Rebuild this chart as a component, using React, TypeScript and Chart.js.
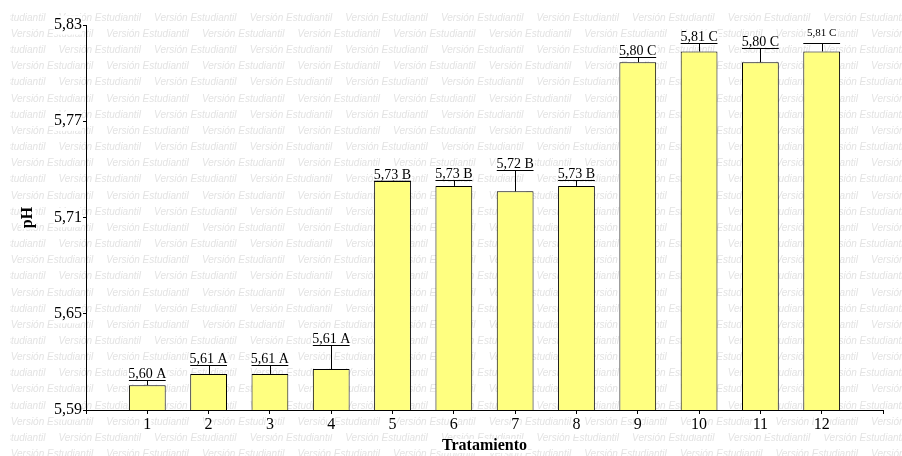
import React, { useEffect, useRef } from "react";
import { Chart, registerables } from "chart.js";

Chart.register(...registerables);

const categories = ["1", "2", "3", "4", "5", "6", "7", "8", "9", "10", "11", "12"];
const means = [5.6055, 5.6125, 5.6125, 5.6155, 5.733, 5.7297, 5.7263, 5.7297, 5.8068, 5.8135, 5.8068, 5.8135];
const errors = [0.0035, 0.0055, 0.0055, 0.015, 0, 0.0035, 0.0133, 0.0035, 0.0032, 0.0055, 0.0087, 0.0055];
const valueLabels = ["5,60 A", "5,61 A", "5,61 A", "5,61 A", "5,73 B", "5,73 B", "5,72 B", "5,73 B", "5,80 C", "5,81 C", "5,80 C", "5,81 C"];
const yTicks = [5.59, 5.65, 5.71, 5.77, 5.83];
const xTitle = "Tratamiento";
const yTitle = "pH";
const watermark = "Versión Estudiantil";

const SERIF = '"Liberation Serif", "Times New Roman", serif';
const SMALL_LABEL_INDEX = 11;

const watermarkPlugin = {
  id: "watermark",
  beforeDraw(chart: any) {
    const { ctx, width, height } = chart;
    ctx.save();
    ctx.fillStyle = "#ffffff";
    ctx.fillRect(0, 0, width, height);
    ctx.beginPath();
    ctx.rect(10, 0, width - 10, height);
    ctx.clip();
    ctx.font = 'italic 10px "Liberation Sans", Arial, sans-serif';
    ctx.fillStyle = "#e3e3e3";
    ctx.textBaseline = "middle";
    ctx.textAlign = "left";
    for (let i = 0; i < 40; i++) {
      const y = 18 + i * 16.16;
      if (y > height + 10) break;
      const start = i % 2 === 1 ? 10.7 : 10.7 - 47.8;
      for (let x = start; x < width; x += 95.6) {
        ctx.fillText(watermark, x, y);
      }
    }
    ctx.restore();
  },
};

const errorPlugin = {
  id: "errorbars",
  afterDatasetsDraw(chart: any) {
    const { ctx } = chart;
    const meta = chart.getDatasetMeta(0);
    const yScale = chart.scales.y;
    ctx.save();
    for (let i = 0; i < categories.length; i++) {
      const bar = meta.data[i + 1];
      if (!bar) continue;
      const x = bar.x;
      const top = bar.y;
      const w = bar.width;
      const yE = Math.round(yScale.getPixelForValue(means[i] + errors[i])) + 0.5;
      ctx.strokeStyle = "#000";
      ctx.lineWidth = 1;
      ctx.beginPath();
      const xc = Math.round(x) + 0.5;
      ctx.moveTo(xc, top);
      ctx.lineTo(xc, yE);
      ctx.moveTo(x - w / 2, yE);
      ctx.lineTo(x + w / 2, yE);
      ctx.stroke();

      const small = i === SMALL_LABEL_INDEX;
      const size = small ? 11 : 14;
      ctx.font = `${size}px ${SERIF}`;
      const text = valueLabels[i];
      const tw = ctx.measureText(text).width;
      const baseY = small ? yE - 7.5 : yE - 2.5;
      ctx.fillStyle = "#fff";
      ctx.fillRect(x - tw / 2 - 1, baseY - size * 0.72, tw + 2, size * 0.72 + 1);
      ctx.fillStyle = "#000";
      ctx.textAlign = "center";
      ctx.textBaseline = "alphabetic";
      ctx.fillText(text, x, baseY);
    }
    ctx.restore();
  },
  afterDraw(chart: any) {
    const { ctx, chartArea } = chart;
    ctx.save();
    ctx.font = `bold 16px ${SERIF}`;
    ctx.textAlign = "center";
    ctx.textBaseline = "middle";
    const cx = (chartArea.left + chartArea.right) / 2;
    const tw = ctx.measureText(xTitle).width;
    ctx.fillStyle = "#fff";
    ctx.fillRect(cx - tw / 2 - 1, 439, tw + 2, 14);
    ctx.fillStyle = "#000";
    ctx.fillText(xTitle, cx, 446);

    const cy = (chartArea.top + chartArea.bottom) / 2;
    ctx.translate(28, cy);
    ctx.rotate(-Math.PI / 2);
    const pw = ctx.measureText(yTitle).width;
    ctx.fillStyle = "#fff";
    ctx.fillRect(-pw / 2 - 1, -7, pw + 2, 14);
    ctx.fillStyle = "#000";
    ctx.fillText(yTitle, 0, 0);
    ctx.restore();
  },
};

export default function App() {
  const ref = useRef<HTMLCanvasElement>(null);
  useEffect(() => {
    if (!ref.current) return;
    const labels = ["", ...categories, ""];
    const data = [null, ...means, null];
    const chart = new Chart(ref.current, {
      type: "bar",
      data: {
        labels,
        datasets: [
          {
            data: data as any,
            backgroundColor: "#FFFF80",
            borderColor: "#000000",
            borderWidth: 1,
            borderSkipped: false,
            barPercentage: 0.6,
            categoryPercentage: 1,
          },
        ],
      },
      options: {
        animation: false,
        responsive: false,
        maintainAspectRatio: false,
        events: [],
        layout: { padding: { top: 25, right: 19, left: 0, bottom: 0 } },
        plugins: {
          legend: { display: false },
          tooltip: { enabled: false },
          title: { display: false },
        },
        scales: {
          x: {
            offset: false,
            grid: {
              offset: false,
              drawOnChartArea: false,
              drawTicks: true,
              tickLength: 4,
              tickColor: "#000",
            },
            border: { display: true, color: "#000", width: 1 },
            ticks: {
              autoSkip: false,
              maxRotation: 0,
              color: "#000",
              font: { family: SERIF, size: 16 },
              padding: 1,
              showLabelBackdrop: true,
              backdropColor: "#fff",
              backdropPadding: 0,
            } as any,
            afterFit(scale: any) {
              scale.height = 46;
            },
          },
          y: {
            min: 5.59,
            max: 5.83,
            grid: {
              drawOnChartArea: false,
              drawTicks: true,
              tickLength: 3,
              tickColor: "#000",
            },
            border: { display: true, color: "#000", width: 1 },
            ticks: {
              color: "#000",
              font: { family: SERIF, size: 16 },
              padding: 1,
              showLabelBackdrop: true,
              backdropColor: "#fff",
              backdropPadding: 0,
              callback: (v: any) => Number(v).toFixed(2).replace(".", ","),
            } as any,
            afterBuildTicks(scale: any) {
              scale.ticks = yTicks.map((v) => ({ value: v }));
            },
            afterFit(scale: any) {
              scale.width = 86;
            },
          },
        },
      },
      plugins: [watermarkPlugin, errorPlugin],
    });
    return () => chart.destroy();
  }, []);
  return (
    <div style={{ position: "fixed", left: 0, top: 0, width: 902, height: 456, background: "#fff" }}>
      <canvas ref={ref} width={902} height={456} style={{ width: 902, height: 456, display: "block" }} />
    </div>
  );
}
